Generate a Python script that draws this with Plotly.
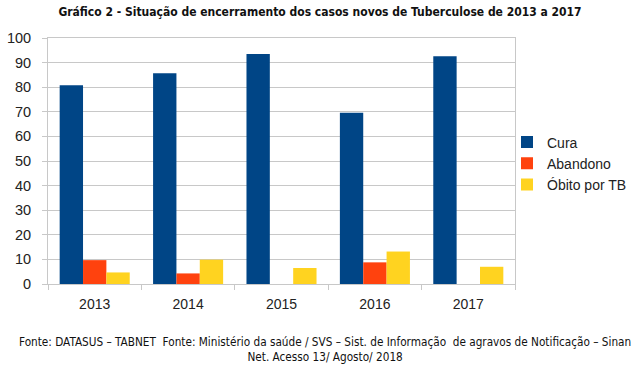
import plotly.graph_objects as go

anos = ["2013", "2014", "2015", "2016", "2017"]
cura = [80.8, 85.7, 93.5, 69.6, 92.6]
abandono = [9.7, 4.3, 0, 8.8, 0]
obito = [4.7, 9.9, 6.5, 13.2, 7.0]
yticks = [0, 10, 20, 30, 40, 50, 60, 70, 80, 90, 100]

series = [("Cura", cura, "#004586"), ("Abandono", abandono, "#ff420e"), ("Óbito por TB", obito, "#ffd320")]

fig = go.Figure()
for name, vals, col in series:
    fig.add_trace(go.Bar(x=anos, y=vals, name=name, marker=dict(color=col, line=dict(width=0))))

grid = "#c8c8c8"
fig.update_layout(
    width=640, height=365,
    margin=dict(l=48, r=125, t=38, b=81, autoexpand=False),
    paper_bgcolor="white", plot_bgcolor="white",
    barmode="group", bargap=0.25, bargroupgap=0,
    font=dict(family="Liberation Sans, Arial", color="#222", size=14),
    title=dict(text="<b>Gráfico 2 - Situação de encerramento dos casos novos de Tuberculose de 2013 a 2017</b>",
               x=0.5, xref="container", xanchor="center", y=0.967, yanchor="middle",
               font=dict(family="DejaVu Sans Condensed, DejaVu Sans", size=12, color="#111")),
    legend=dict(x=507 / 640, xref="container", xanchor="left", y=0.49, yanchor="middle",
                font=dict(size=14, color="#222"), itemwidth=30, tracegroupgap=0,
                bgcolor="rgba(0,0,0,0)"),
    showlegend=True,
)
fig.update_xaxes(type="category", showline=True, linecolor=grid, linewidth=1, mirror=True,
                 ticks="outside", tickson="boundaries", ticklen=5, tickcolor=grid,
                 showgrid=False, tickfont=dict(size=14, color="#222"), ticklabelstandoff=7,
                 automargin=False)
fig.update_yaxes(range=[0, 100], tickvals=yticks, showline=True, linecolor=grid, linewidth=1, mirror=True,
                 ticks="outside", ticklen=5, tickcolor=grid, showgrid=True, gridcolor=grid, gridwidth=1,
                 tickfont=dict(size=14.5, color="#222"), ticklabelstandoff=8, zeroline=False,
                 automargin=False)

fig.add_annotation(text="Fonte: DATASUS – TABNET  Fonte: Ministério da saúde / SVS – Sist. de Informação  de agravos de Notificação – Sinan<br>Net. Acesso 13/ Agosto/ 2018",
                   xref="paper", yref="paper", x=(325 - 48) / 467, y=-0.2, xanchor="center", yanchor="top",
                   showarrow=False, align="center",
                   font=dict(family="DejaVu Sans Condensed, DejaVu Sans", size=11.7, color="#111"))

fig.write_html("out.html", config={"displayModeBar": False},
               post_script="document.body.style.margin='0';document.body.style.overflow='hidden';")
